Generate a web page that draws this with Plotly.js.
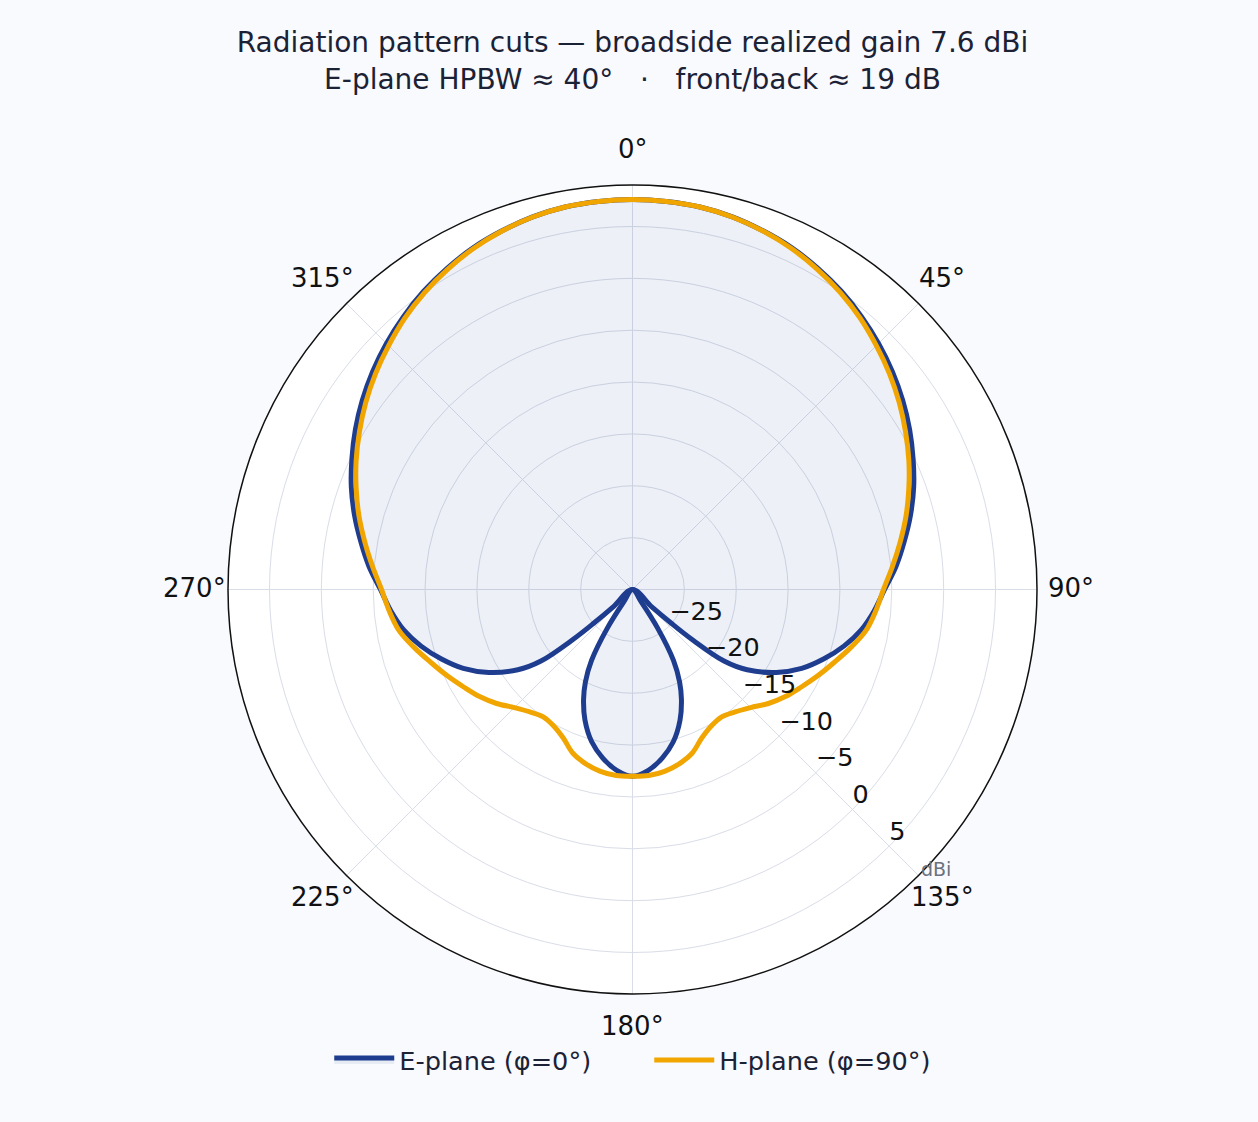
<!DOCTYPE html>
<html>
<head>
<meta charset="utf-8">
<script src="https://cdn.plot.ly/plotly-3.0.1.min.js"></script>
<style>
html,body{margin:0;padding:0;background:#f8fafd;}
#chart{width:1258px;height:1122px;}
</style>
</head>
<body>
<div id="chart"></div>
<script>
// E-plane cut (phi = 0 deg): angle in degrees, realized gain in dBi.
// null marks the deep nulls near +/-138 deg (below the -30 dB floor) that split main and back lobe.
const thetaE = [227,228,229,230,232,235,240,245,250,255,260,265,270,275,280,285,290,295,300,305,310,315,320,325,330,335,340,345,350,355,
  0,5,10,15,20,25,30,35,40,45,50,55,60,65,70,75,80,85,90,95,100,105,110,115,120,125,128,130,131,132,133,
  null,
  144,145,147,150,153,156,160,165,170,175,180,185,190,195,200,204,207,210,213,215,216];
const gainE = [-30,-27.5,-25.0,-22.5,-18.8,-16.5,-14.0,-12.0,-10.4,-8.9,-7.6,-6.6,-5.7,-4.5,-3.4,-2.25,-1.15,-0.15,0.85,1.8,2.7,3.55,4.35,5.1,5.75,6.35,6.8,7.2,7.45,7.56,
  7.6,7.56,7.45,7.2,6.8,6.35,5.75,5.1,4.35,3.55,2.7,1.8,0.85,-0.15,-1.15,-2.25,-3.4,-4.5,-5.7,-6.6,-7.6,-8.9,-10.4,-12.0,-14.0,-16.5,-18.8,-22.5,-25.0,-27.5,-30,
  null,
  -30,-28.5,-25.5,-22.1,-20.0,-18.4,-16.6,-14.8,-13.5,-12.5,-12.0,-12.5,-13.5,-14.8,-16.6,-18.4,-20.0,-22.1,-25.5,-28.5,-30];

// H-plane cut (phi = 90 deg)
const thetaH = [0,5,10,15,20,25,30,35,40,45,50,55,60,65,70,75,80,85,90,95,100,105,110,115,120,125,130,135,140,145,150,155,160,165,170,175,180,
  185,190,195,200,205,210,215,220,225,230,235,240,245,250,255,260,265,270,275,280,285,290,295,300,305,310,315,320,325,330,335,340,345,350,355,360];
const gainH = [7.6,7.56,7.45,7.18,6.78,6.28,5.65,4.95,4.15,3.25,2.35,1.4,0.4,-0.6,-1.65,-2.7,-3.8,-4.85,-5.8,-6.45,-7.15,-8.25,-9.35,-10.3,-11.2,-12.0,-12.9,-13.9,-14.6,-15.0,-14.8,-14.2,-13.2,-12.6,-12.2,-12.0,-12.0,
  -12.0,-12.2,-12.6,-13.2,-14.2,-14.8,-15.0,-14.6,-13.9,-12.9,-12.0,-11.2,-10.3,-9.35,-8.25,-7.15,-6.45,-5.8,-4.85,-3.8,-2.7,-1.65,-0.6,0.4,1.4,2.35,3.25,4.15,4.95,5.65,6.28,6.78,7.18,7.45,7.56,7.6];

// axis ticks
const angularTicks = [0,45,90,135,180,225,270,315];
const angularTickText = ['0°','45°','90°','135°','180°','225°','270°','315°'];
const radialTicks = [-25,-20,-15,-10,-5,0,5];
const radialTickText = ['−25','−20','−15','−10','−5','0','5'];
const radialRange = [-30,9];
const seriesNames = ['E-plane (φ=0°)','H-plane (φ=90°)'];
const titleLines = ['Radiation pattern cuts — broadside realized gain 7.6 dBi',
  'E-plane HPBW ≈ 40°\u00a0\u00a0\u00a0·\u00a0\u00a0\u00a0front/back ≈ 19 dB'];
const radialUnit = 'dBi';

// layout / style constants
const W = 1258, H = 1122;
const M = {l:90, r:83, t:185, b:128};
const plotW = W - M.l - M.r, plotH = H - M.t - M.b;
const ringR = Math.min(plotW, plotH) / 2;      // outer ring radius in px
const angLabelGap = 33.5;                        // px from ring to label centre
const angLabelLift = 2;                          // px
const radialLabelTheta = 135;

// angular tick labels placed around the ring (paper coordinates)
const angularLabels = angularTicks.map((t, i) => {
  const a = t * Math.PI / 180;
  const rr = ringR + angLabelGap;
  return {text:angularTickText[i], xref:'paper', yref:'paper',
          x:0.5 + rr * Math.sin(a) / plotW, y:0.5 + (rr * Math.cos(a) + angLabelLift) / plotH,
          xanchor:'center', yanchor:'middle', showarrow:false,
          font:{family:'DejaVu Sans', size:26, color:'#111111'}};
});

const traces = [
  {type:'scatterpolar', mode:'lines', name:seriesNames[0], r:gainE, theta:thetaE,
   line:{color:'#1f3d8f', width:5, shape:'spline', smoothing:1}, connectgaps:false,
   fill:'toself', fillcolor:'rgba(31,61,143,0.08)', hoverinfo:'skip'},
  {type:'scatterpolar', mode:'lines', name:seriesNames[1], r:gainH, theta:thetaH,
   line:{color:'#f0a500', width:5, shape:'spline', smoothing:1}, hoverinfo:'skip'},
  {type:'scatterpolar', mode:'text', showlegend:false, hoverinfo:'skip', cliponaxis:false,
   r:radialTicks, theta:radialTicks.map(() => radialLabelTheta), text:radialTickText,
   textposition:'top right', textfont:{family:'DejaVu Sans', size:25.5, color:'#111111'}}
];

const layout = {
  width:W, height:H,
  paper_bgcolor:'#f8fafd',
  font:{family:'DejaVu Sans', color:'#1c2236'},
  margin:M,
  title:{text:titleLines.join('<br>'), x:0.5, xref:'paper', xanchor:'center',
         y:0.9535, yref:'container', yanchor:'top', font:{size:28, color:'#1c2236'}},
  showlegend:true,
  legend:{orientation:'h', x:0.2205, xanchor:'left', xref:'paper', y:0.055, yref:'container', yanchor:'middle',
          itemwidth:60, entrywidth:245, entrywidthmode:'pixels',
          font:{size:25.6, color:'#1c2236'}, bgcolor:'rgba(0,0,0,0)'},
  annotations:[{text:radialUnit, xref:'paper', yref:'paper', x:0.7797, y:0.1545, xanchor:'center', yanchor:'middle',
                showarrow:false, font:{size:19, color:'#6b7280'}}].concat(angularLabels),
  polar:{
    bgcolor:'#ffffff',
    domain:{x:[0,1], y:[0,1]},
    angularaxis:{rotation:90, direction:'clockwise', tickmode:'array', tickvals:angularTicks, showticklabels:false,
      showline:true, linecolor:'#111111', linewidth:1.5, gridcolor:'#d9dde7', gridwidth:1.3, ticks:''},
    radialaxis:{range:radialRange, angle:-45, tickmode:'array', tickvals:radialTicks, showticklabels:false,
      showline:false, gridcolor:'#d9dde7', gridwidth:1.3, ticks:''}
  }
};

Plotly.newPlot('chart', traces, layout, {displayModeBar:false, responsive:false});
</script>
</body>
</html>
